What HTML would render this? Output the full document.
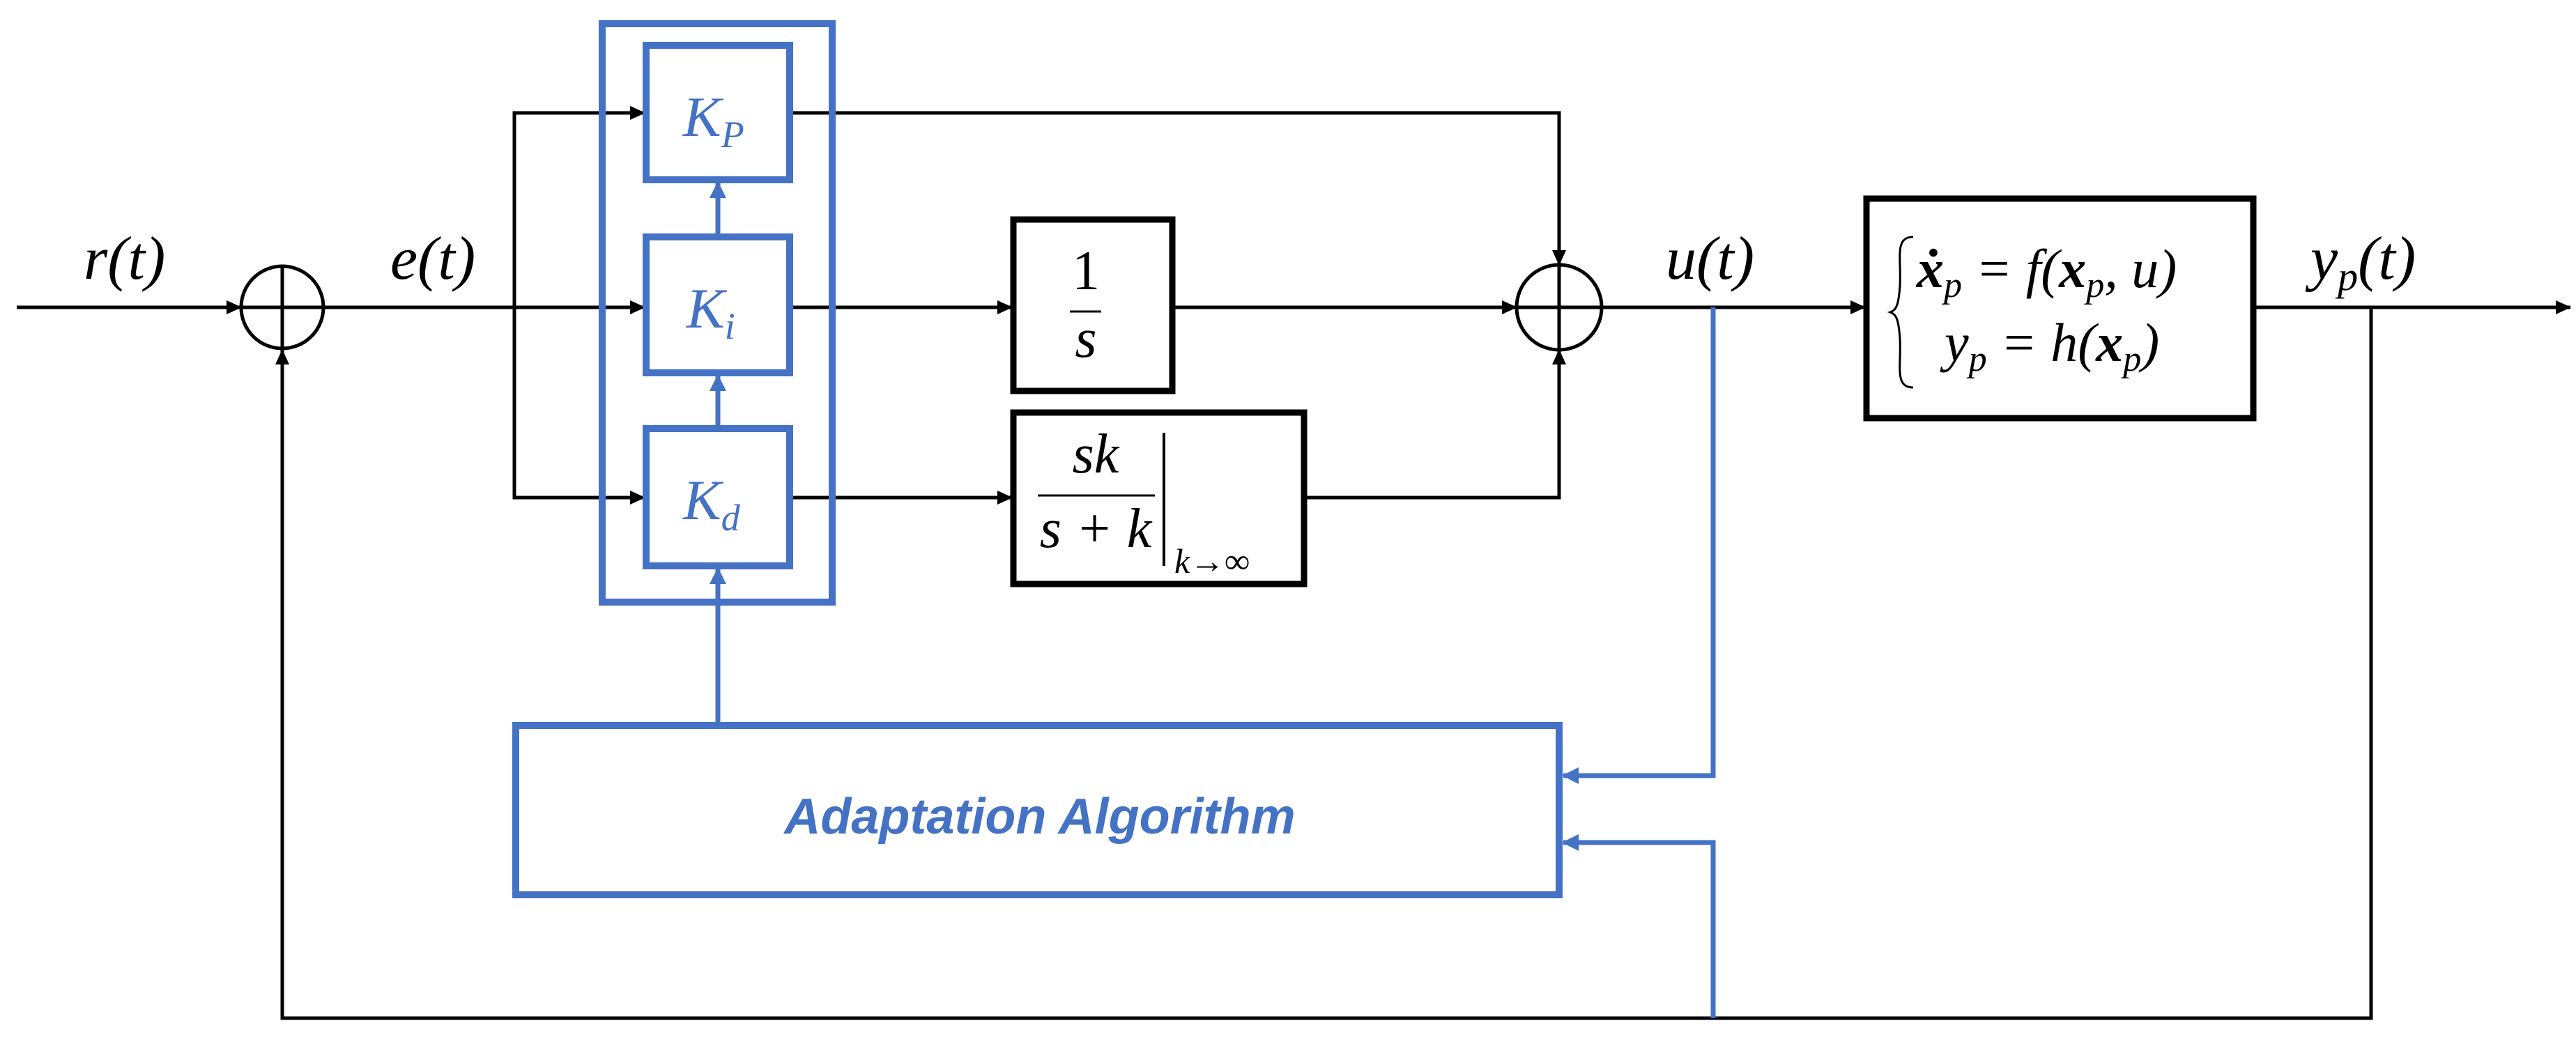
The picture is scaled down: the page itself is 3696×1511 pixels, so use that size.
<!DOCTYPE html>
<html><head><meta charset="utf-8"><style>
html,body{margin:0;padding:0;background:#fff;}
svg{display:block;}
.m{font-family:"Liberation Serif",serif;font-style:italic;}
</style></head><body>
<svg width="3696" height="1511" viewBox="0 0 3696 1511" xmlns="http://www.w3.org/2000/svg">
<defs>
<marker id="ab" markerWidth="22" markerHeight="20" refX="21" refY="10" orient="auto" markerUnits="userSpaceOnUse" viewBox="0 0 22 20"><path d="M0,0 L22,10 L0,20z" fill="#000"/></marker>
<marker id="ablu" markerWidth="24" markerHeight="24" refX="22" refY="12" orient="auto" markerUnits="userSpaceOnUse" viewBox="0 0 24 24"><path d="M0,0 L24,12 L0,24z" fill="#4472C4"/></marker>
</defs>
<style>
.k{stroke:#000;stroke-width:5;fill:none;}
.b{stroke:#4472C4;stroke-width:10;fill:none;}
.bl{stroke:#4472C4;stroke-width:7;fill:none;}
</style>
<g class="k">
<line x1="24" y1="441" x2="346" y2="441" marker-end="url(#ab)"/>
<circle cx="405" cy="441" r="59"/>
<line x1="346" y1="441" x2="464" y2="441"/>
<line x1="405" y1="382" x2="405" y2="500"/>
<line x1="464" y1="441" x2="925" y2="441" marker-end="url(#ab)"/>
<polyline points="738,441 738,162 925,162" marker-end="url(#ab)"/>
<polyline points="738,441 738,714 925,714" marker-end="url(#ab)"/>
<polyline points="1133,162 2237,162 2237,380" marker-end="url(#ab)"/>
<line x1="1133" y1="441" x2="1452" y2="441" marker-end="url(#ab)"/>
<line x1="1133" y1="714" x2="1452" y2="714" marker-end="url(#ab)"/>
<line x1="1682" y1="441" x2="2176" y2="441" marker-end="url(#ab)"/>
<polyline points="1871,714 2237,714 2237,502" marker-end="url(#ab)"/>
<circle cx="2237" cy="441" r="61"/>
<line x1="2176" y1="441" x2="2298" y2="441"/>
<line x1="2237" y1="380" x2="2237" y2="502"/>
<line x1="2298" y1="441" x2="2676" y2="441" marker-end="url(#ab)"/>
<line x1="3233" y1="441" x2="3688" y2="441" marker-end="url(#ab)"/>
<polyline points="3402,441 3402,1461 405,1461 405,502" marker-end="url(#ab)"/>
<rect x="1454" y="315" width="228" height="246" style="stroke-width:9"/>
<rect x="1454" y="592" width="417" height="246" style="stroke-width:9"/>
<rect x="2678" y="285" width="555" height="315" style="stroke-width:9"/>
<line x1="1535" y1="447" x2="1580" y2="447" style="stroke-width:3"/>
<line x1="1489" y1="711" x2="1657" y2="711" style="stroke-width:3"/>
<line x1="1670" y1="621" x2="1670" y2="812" style="stroke-width:4"/>
<path d="M2745,340 C2718,340 2728,370 2726,410 C2724,440 2720,445 2712,448 C2720,451 2724,456 2726,486 C2728,526 2718,556 2745,556" style="stroke-width:3"/>
</g>
<g>
<rect x="864" y="34" width="330" height="830" class="b"/>
<rect x="927" y="65" width="206" height="193" class="b"/>
<rect x="927" y="340" width="206" height="195" class="b"/>
<rect x="927" y="615" width="206" height="197" class="b"/>
<line x1="1030" y1="336" x2="1030" y2="262" class="bl" marker-end="url(#ablu)"/>
<line x1="1030" y1="611" x2="1030" y2="539" class="bl" marker-end="url(#ablu)"/>
<line x1="1030" y1="1036" x2="1030" y2="816" class="bl" marker-end="url(#ablu)"/>
<rect x="740" y="1041" width="1497" height="243" class="b"/>
<polyline points="2458,441 2458,1113 2243,1113" class="bl" marker-end="url(#ablu)"/>
<polyline points="2458,1461 2458,1209 2243,1209" class="bl" marker-end="url(#ablu)"/>
</g>
<g class="m" font-size="88" fill="#000">
<text x="120" y="400">r(t)</text>
<text x="560" y="400">e(t)</text>
<text x="2390" y="400">u(t)</text>
<text x="3315" y="400">y<tspan font-size="58" dy="16">p</tspan><tspan dy="-16">(t)</tspan></text>
<text x="1558" y="415" text-anchor="middle" font-style="normal" font-size="80">1</text>
<text x="1558" y="512" text-anchor="middle" font-size="80">s</text>
<text x="1572" y="678" text-anchor="middle" font-size="80">sk</text>
<text x="1572" y="785" text-anchor="middle" font-size="80">s + k</text>
<text x="1685" y="822" font-size="50">k→∞</text>
<text x="2750" y="412" font-size="78"><tspan font-weight="bold">ẋ</tspan><tspan font-size="52" dy="14">p</tspan><tspan dy="-14"> = f(</tspan><tspan font-weight="bold">x</tspan><tspan font-size="52" dy="14">p</tspan><tspan dy="-14">, u)</tspan></text>
<text x="2790" y="518" font-size="78">y<tspan font-size="52" dy="14">p</tspan><tspan dy="-14"> = h(</tspan><tspan font-weight="bold">x</tspan><tspan font-size="52" dy="14">p</tspan><tspan dy="-14">)</tspan></text>
</g>
<g class="m" font-size="82" fill="#4472C4">
<text x="980" y="195">K<tspan font-size="54" dy="16">P</tspan></text>
<text x="985" y="470">K<tspan font-size="54" dy="16">i</tspan></text>
<text x="980" y="745">K<tspan font-size="54" dy="16">d</tspan></text>
</g>
<text x="1492" y="1196" text-anchor="middle" font-family="Liberation Sans, sans-serif" font-style="italic" font-weight="bold" font-size="72" fill="#4472C4">Adaptation Algorithm</text>
</svg>
</body></html>
